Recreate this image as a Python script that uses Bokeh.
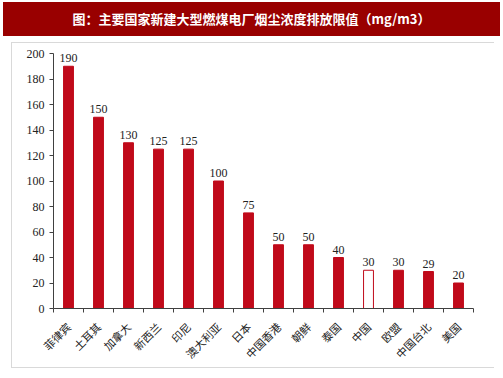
from math import pi
from bokeh.plotting import figure
from bokeh.layouts import column
from bokeh.models import ColumnDataSource, FixedTicker, LabelSet, Div
from bokeh.embed import file_html
from bokeh.resources import INLINE

title_text = "图：主要国家新建大型燃煤电厂烟尘浓度排放限值（mg/m3）"
countries = ["菲律宾", "土耳其", "加拿大", "新西兰", "印尼", "澳大利亚", "日本",
             "中国香港", "朝鲜", "泰国", "中国", "欧盟", "中国台北", "美国"]
values = [190, 150, 130, 125, 125, 100, 75, 50, 50, 40, 30, 30, 29, 20]
y_ticks = [0, 20, 40, 60, 80, 100, 120, 140, 160, 180, 200]
highlight = "中国"

RED = "#C00A1A"
n = len(countries)
centers = [i + 0.5 for i in range(n)]
fills = ["white" if c == highlight else RED for c in countries]

src = ColumnDataSource(dict(x=centers, top=values, fill=fills,
                            label=[str(v) for v in values], name=countries))

header = Div(text=title_text, width=497, height=34, margin=(2, 0, 6, 3),
             styles={"background-color": "#990000", "color": "white",
                     "font-family": "Noto Sans CJK SC", "font-weight": "bold",
                     "font-size": "13px", "text-align": "center",
                     "line-height": "34px"})

p = figure(width=483, height=326, x_range=(0, n), y_range=(0, 200),
           output_backend="svg", toolbar_location=None,
           min_border_left=41, min_border_right=22, min_border_top=10, min_border_bottom=60,
           margin=(0, 0, 0, 11))
p.styles = {"border-left": "1px solid #D9D9D9", "border-top": "1px solid #D9D9D9",
            "border-bottom": "1px solid #D9D9D9"}
p.outline_line_color = None
p.xgrid.visible = False
p.ygrid.visible = False
p.background_fill_color = "white"
p.border_fill_color = "white"

p.vbar(x="x", top="top", width=0.33, fill_color="fill", line_color=RED, line_width=1, source=src)

# x axis: boundary ticks as minor ticks, labels at centers
xa = p.xaxis[0]
xa.ticker = FixedTicker(ticks=centers, minor_ticks=list(range(n + 1)))
xa.major_label_overrides = {c: name for c, name in zip(centers, countries)}
xa.major_tick_out = 0
xa.major_tick_in = 0
xa.minor_tick_out = 4
xa.minor_tick_in = 0
xa.minor_tick_line_color = "#404040"
xa.axis_line_color = "#404040"
xa.major_label_orientation = pi / 4
xa.major_label_standoff = 12
xa.major_label_text_font = "Noto Sans CJK SC"
xa.major_label_text_font_size = "11px"
xa.major_label_text_color = "#222222"

ya = p.yaxis[0]
ya.ticker = FixedTicker(ticks=y_ticks)
ya.major_tick_out = 4
ya.major_tick_in = 0
ya.minor_tick_out = 0
ya.minor_tick_in = 0
ya.major_tick_line_color = "#404040"
ya.axis_line_color = "#404040"
ya.major_label_standoff = 5
ya.major_label_text_font = "Liberation Serif"
ya.major_label_text_font_size = "12px"
ya.major_label_text_color = "#222222"

labels = LabelSet(x="x", y="top", text="label", source=src, y_offset=4,
                  text_align="center", text_baseline="bottom",
                  text_font="Liberation Serif", text_font_size="12px", text_color="#222222")
p.add_layout(labels)

layout = column(header, p, spacing=0)
open("out.html", "w").write(file_html(layout, INLINE))
